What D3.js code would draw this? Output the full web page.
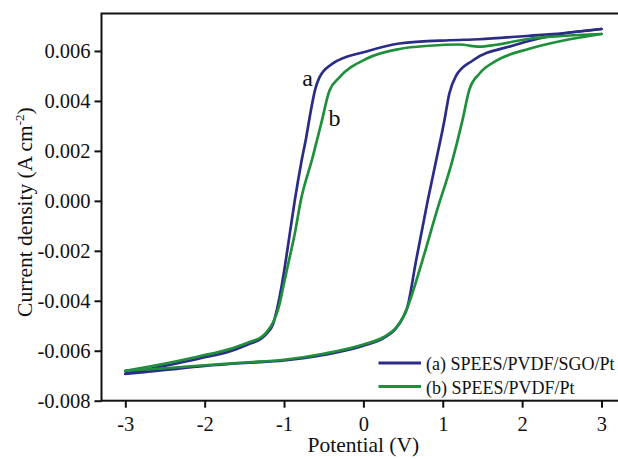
<!DOCTYPE html>
<html>
<head>
<meta charset="utf-8">
<script src="https://cdn.jsdelivr.net/npm/d3@7"></script>
<style>
  html, body { margin: 0; padding: 0; background: #fff; }
  svg { display: block; }
  text { font-family: "Liberation Serif", "Times New Roman", serif; fill: #111; }
</style>
</head>
<body>
<svg id="chart" width="618" height="459"></svg>
<script>
// Cyclic voltammograms: potential (V) and current density (A cm^-2).
// Each membrane has a forward sweep (-3 V -> 3 V) and a reverse sweep (3 V -> -3 V).

// (a) SPEES/PVDF/SGO/Pt
const aForwardV = [-3.0, -2.5, -2.0, -1.5, -1.0, -0.5, 0.0, 0.25, 0.40, 0.50, 0.55, 0.664, 0.81, 0.916, 1.02, 1.083, 1.167, 1.373, 1.877, 2.506, 3.0];
const aForwardJ = [-0.00693, -0.00677, -0.00661, -0.00649, -0.00639, -0.00617, -0.00580, -0.00550, -0.00515, -0.00467, -0.00430, -0.00239, 0.00000, 0.00161, 0.00321, 0.00430, 0.00500, 0.00561, 0.00621, 0.00669, 0.00688];
const aReverseV = [3.0, 2.506, 2.09, 1.46, 1.083, 0.453, 0.038, -0.39, -0.554, -0.608, -0.66, -0.72, -0.785, -0.865, -0.928, -0.991, -1.033, -1.083, -1.137, -1.222, -1.285, -1.436, -1.65, -2.065, -2.48, -3.0];
const aReverseJ = [0.00688, 0.00671, 0.00661, 0.00647, 0.00643, 0.00630, 0.00598, 0.00549, 0.00494, 0.00445, 0.00365, 0.00255, 0.00150, 0.00001, -0.00132, -0.00266, -0.00346, -0.00426, -0.00492, -0.00532, -0.00551, -0.00572, -0.00599, -0.00631, -0.00659, -0.00691];

// (b) SPEES/PVDF/Pt
const bForwardV = [-3.0, -2.5, -2.0, -1.5, -1.0, -0.5, 0.0, 0.25, 0.40, 0.50, 0.55, 0.743, 0.916, 1.121, 1.247, 1.335, 1.461, 1.675, 2.09, 2.506, 3.0];
const bForwardJ = [-0.00680, -0.00670, -0.00658, -0.00647, -0.00636, -0.00612, -0.00575, -0.00546, -0.00511, -0.00465, -0.00430, -0.00239, -0.00050, 0.00161, 0.00321, 0.00445, 0.00509, 0.00561, 0.00609, 0.00641, 0.00668];
const bReverseV = [3.0, 2.506, 2.09, 1.675, 1.461, 1.209, 0.831, 0.453, 0.038, -0.302, -0.428, -0.533, -0.64, -0.789, -0.865, -0.957, -1.011, -1.067, -1.137, -1.222, -1.285, -1.436, -1.65, -2.065, -2.48, -3.0];
const bReverseJ = [0.00668, 0.00660, 0.00649, 0.00625, 0.00617, 0.00626, 0.00621, 0.00608, 0.00569, 0.00494, 0.00441, 0.00308, 0.00174, 0.00001, -0.00132, -0.00266, -0.00346, -0.00426, -0.00486, -0.00526, -0.00545, -0.00565, -0.00590, -0.00622, -0.00650, -0.00680];

const seriesNames = ["(a) SPEES/PVDF/SGO/Pt", "(b) SPEES/PVDF/Pt"];
const curveTags = ["a", "b"];
const xTicks = [-3, -2, -1, 0, 1, 2, 3];
const xTickLabels = ["-3", "-2", "-1", "0", "1", "2", "3"];
const yTicks = [-0.008, -0.006, -0.004, -0.002, 0.000, 0.002, 0.004, 0.006];
const yTickLabels = ["-0.008", "-0.006", "-0.004", "-0.002", "0.000", "0.002", "0.004", "0.006"];

const colors = ["#2b2c85", "#1f8f3c"];

const svg = d3.select("#chart");
const plotLeft = 101.5, plotTop = 13.5, plotBottom = 400.7, plotRight = 625.3;

const x = d3.scaleLinear().domain([-3.3, 3.3]).range([plotLeft, plotRight]);
const y = d3.scaleLinear().domain([-0.008, 0.0075]).range([plotBottom, plotTop]);

// Axes
const xAxis = d3.axisBottom(x).tickValues(xTicks)
  .tickFormat((d, i) => xTickLabels[i]).tickSizeInner(7).tickSizeOuter(0).tickPadding(5);
const yAxis = d3.axisLeft(y).tickValues(yTicks)
  .tickFormat((d, i) => yTickLabels[i]).tickSizeInner(7).tickSizeOuter(0).tickPadding(4);

const gx = svg.append("g").attr("transform", `translate(0,${plotBottom})`).call(xAxis);
const gy = svg.append("g").attr("transform", `translate(${plotLeft},0)`).call(yAxis);
[gx, gy].forEach(g => {
  g.select(".domain").remove();
  g.selectAll(".tick line").attr("stroke", "#111").attr("stroke-width", 2);
  g.selectAll(".tick text").attr("fill", "#111")
    .style("font-family", '"Liberation Serif", "Times New Roman", serif')
    .style("font-size", "20.5px");
});
gx.selectAll(".tick text").attr("dy", "0.9em");

// Plot frame (right edge falls just outside the canvas)
svg.append("rect")
  .attr("x", plotLeft).attr("y", plotTop)
  .attr("width", plotRight - plotLeft).attr("height", plotBottom - plotTop)
  .attr("fill", "none").attr("stroke", "#111").attr("stroke-width", 2);

// Curves: each sweep is monotone in potential
const line = d3.line()
  .x(d => x(d[0])).y(d => y(d[1]))
  .curve(d3.curveMonotoneX);

const zip = (vs, js) => vs.map((v, i) => [v, js[i]]);
const sweeps = [
  { data: zip(aForwardV, aForwardJ), color: colors[0] },
  { data: zip(aReverseV, aReverseJ), color: colors[0] },
  { data: zip(bForwardV, bForwardJ), color: colors[1] },
  { data: zip(bReverseV, bReverseJ), color: colors[1] }
];

svg.selectAll("path.sweep").data(sweeps).enter().append("path")
  .attr("class", "sweep")
  .attr("d", d => line(d.data))
  .attr("fill", "none")
  .attr("stroke", d => d.color)
  .attr("stroke-width", 2.7)
  .attr("stroke-linejoin", "round")
  .attr("stroke-linecap", "round");

// Curve tags
svg.append("text").attr("x", x(-0.77)).attr("y", y(0.00461))
  .style("font-size", "24px").text(curveTags[0]);
svg.append("text").attr("x", x(-0.44)).attr("y", y(0.00298))
  .style("font-size", "24px").text(curveTags[1]);

// Legend
const legendY = [363, 386.5];
seriesNames.forEach((name, i) => {
  svg.append("line")
    .attr("x1", 378.5).attr("x2", 421)
    .attr("y1", legendY[i]).attr("y2", legendY[i])
    .attr("stroke", colors[i]).attr("stroke-width", 3);
  svg.append("text").attr("x", 426).attr("y", legendY[i] + 7)
    .style("font-size", "18px").text(name);
});

// Axis titles
svg.append("text")
  .attr("x", x(0)).attr("y", 452)
  .attr("text-anchor", "middle")
  .style("font-size", "21.5px")
  .text("Potential (V)");

const yTitle = svg.append("text")
  .attr("transform", `translate(32,${(plotTop + plotBottom) / 2 + 5}) rotate(-90)`)
  .attr("text-anchor", "middle")
  .style("font-size", "21.5px");
yTitle.append("tspan").text("Current density (A cm");
yTitle.append("tspan").attr("dy", -8).style("font-size", "13px").text("-2");
yTitle.append("tspan").attr("dy", 8).text(")");
</script>
</body>
</html>
